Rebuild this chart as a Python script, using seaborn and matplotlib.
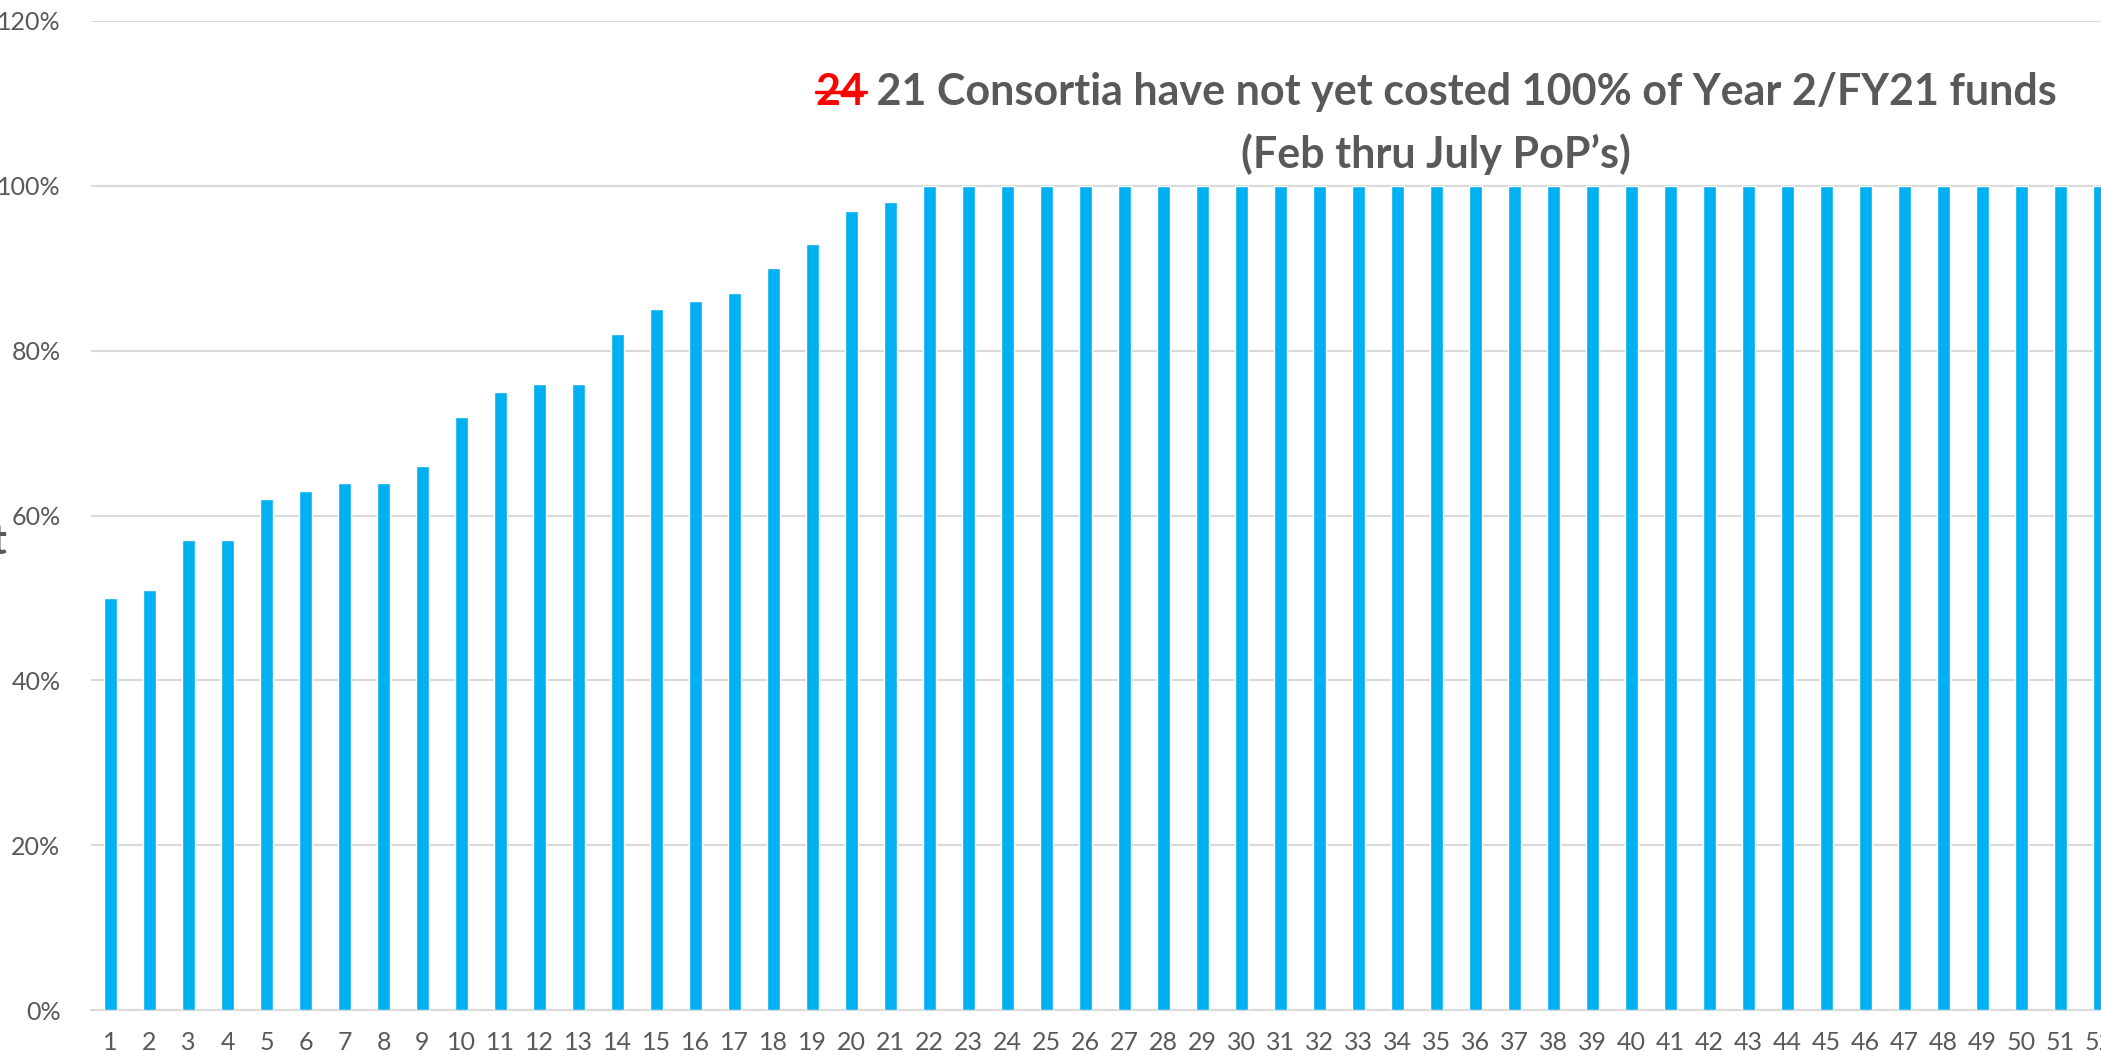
import matplotlib
matplotlib.use("Agg")
import matplotlib.pyplot as plt
import seaborn as sns
import pandas as pd
from matplotlib.ticker import FuncFormatter

# consortia ranked by share of Year 2 / FY21 funds costed
consortium = [str(i) for i in range(1, 53)]
pct_costed = [0.50, 0.51, 0.57, 0.57, 0.62, 0.63, 0.64, 0.64, 0.66, 0.72,
              0.75, 0.76, 0.76, 0.82, 0.85, 0.86, 0.87, 0.90, 0.93, 0.97,
              0.98] + [1.00] * 31
y_ticks = [0, 0.2, 0.4, 0.6, 0.8, 1.0, 1.2]

df = pd.DataFrame({"consortium": consortium, "pct": pct_costed})

sns.set_style("white")
plt.rcParams["font.family"] = ["Lato", "DejaVu Sans"]

grey = "#595959"
fig = plt.figure(figsize=(21.01, 10.51), dpi=100)
ax = fig.add_axes([91 / 2101, 41 / 1051, 2028 / 2101, 989 / 1051])

sns.barplot(data=df, x="consortium", y="pct", color="#00B0F0", saturation=1,
            width=0.32, ax=ax, zorder=3)

ax.set_xlim(-0.5, 51.5)
ax.set_ylim(0, 1.2)
ax.set_yticks(y_ticks)
ax.yaxis.set_major_formatter(FuncFormatter(lambda v, _: f"{v * 100:.0f}%"))
ax.yaxis.grid(True, color="#d9d9d9", linewidth=1.5, zorder=0)
for s in ["top", "right", "left"]:
    ax.spines[s].set_visible(False)
ax.spines["bottom"].set_color("#d9d9d9")
ax.spines["bottom"].set_linewidth(1.5)
ax.tick_params(axis="both", length=0, labelsize=18, labelcolor=grey)
ax.tick_params(axis="y", pad=22)
ax.tick_params(axis="x", pad=15)
ax.set_xlabel("")
ax.set_ylabel("")

# cut-off y label at the left edge
fig.text(8 / 2101, 1 - 542 / 1051, "Percent", ha="right", va="center",
         fontsize=30, fontweight="bold", color=grey)

# title: struck-through red "24" then the rest in grey
fs = 31
cx = 1436 / 2101
y1 = 1 - 92 / 1051
y2 = 1 - 154 / 1051
old = fig.text(0, y1, "24", color="red", fontsize=fs, fontweight="bold",
               ha="left", va="center")
rest = fig.text(0, y1, " 21 Consortia have not yet costed 100% of Year 2/FY21 funds",
                color=grey, fontsize=fs, fontweight="bold", ha="left", va="center")
fig.canvas.draw()
r = fig.canvas.get_renderer()
w_old = old.get_window_extent(r).width / 2101
w_rest = rest.get_window_extent(r).width / 2101
x0 = cx - (w_old + w_rest) / 2
old.set_x(x0)
rest.set_x(x0 + w_old)
fig.add_artist(plt.Line2D([x0, x0 + w_old], [y1, y1], color="red",
                          linewidth=2.5, transform=fig.transFigure))
fig.text(cx, y2, "(Feb thru July PoP\u2019s)", color=grey, fontsize=fs,
         fontweight="bold", ha="center", va="center")

fig.savefig("out.png", dpi=100)
